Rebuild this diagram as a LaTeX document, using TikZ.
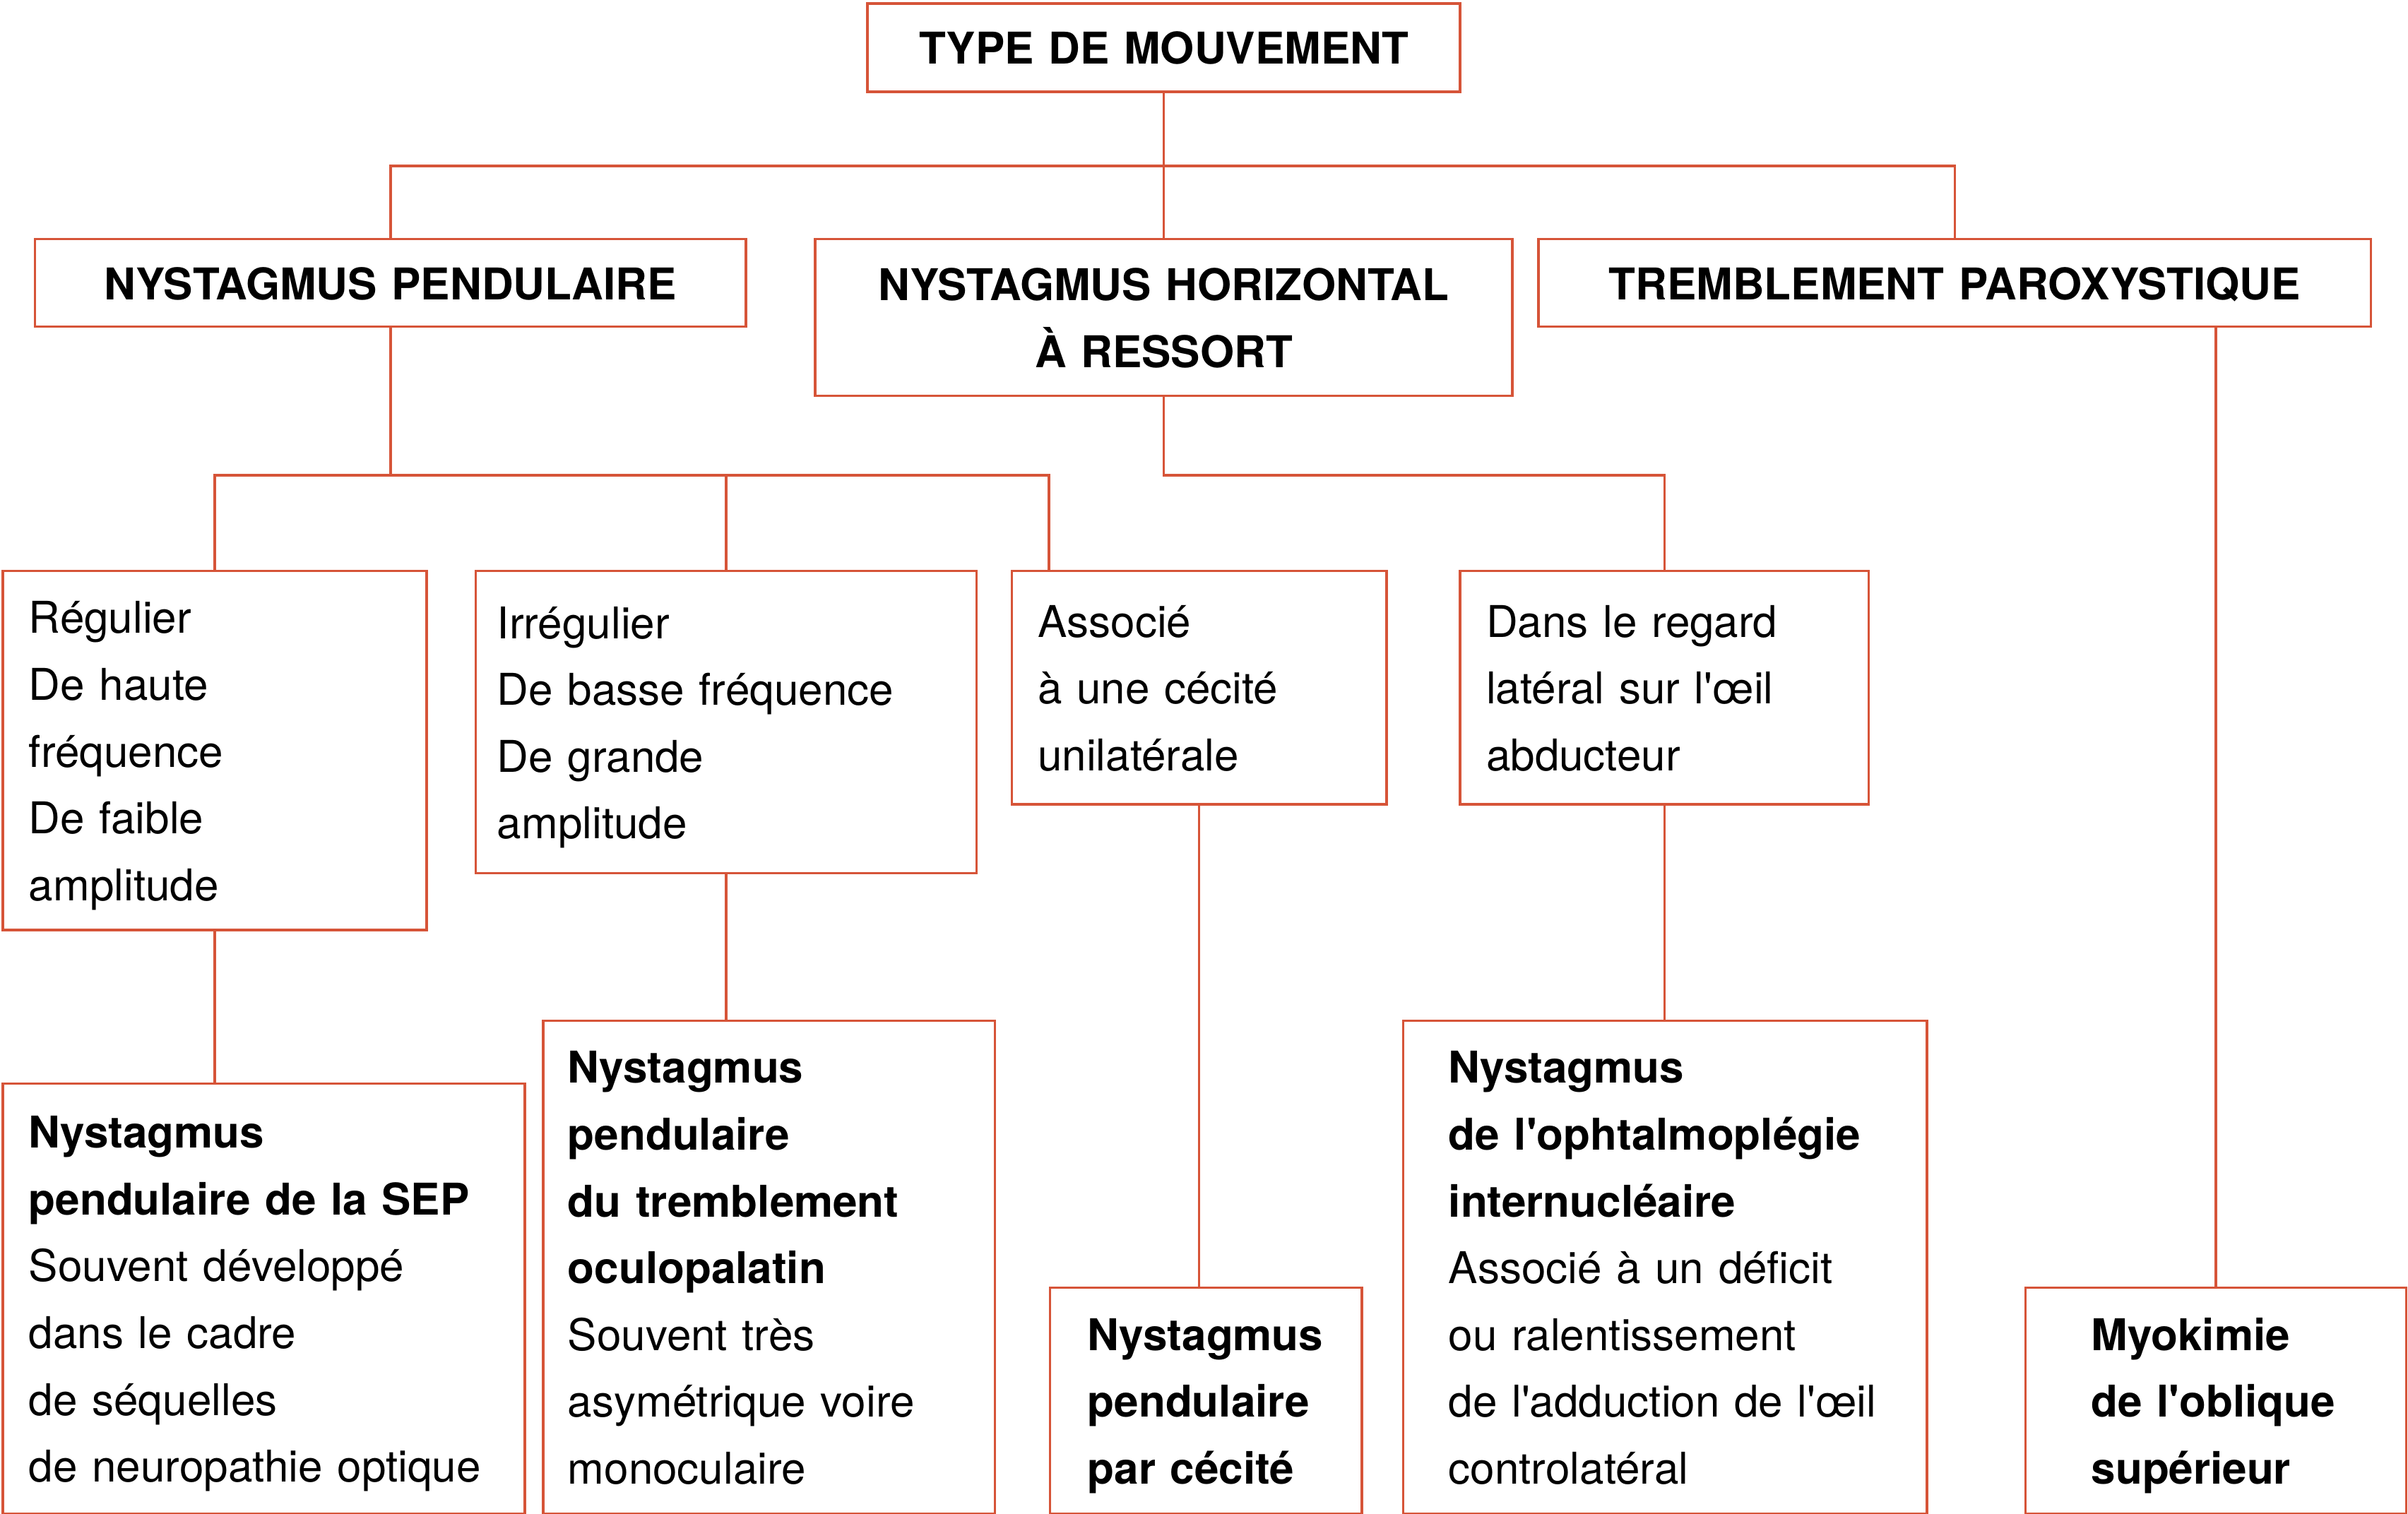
\documentclass[tikz,border=0pt]{standalone}
\usepackage{fontspec}
\newfontfamily\helv{TeX Gyre Heros}
\definecolor{boxred}{RGB}{214,84,56}
\newcommand\bxstrut{\rule[-11pt]{0pt}{43.5pt}}
\tikzset{
  box/.style={draw=boxred, line width=1.6pt, anchor=north west,
    inner xsep=17pt, inner ysep=0pt, align=left,
    font=\helv\fontsize{28.5}{43.5}\selectfont,
    execute at begin node=\bxstrut, execute at end node=\bxstrut},
  headbox/.style={box, align=center,
    font=\helv\bfseries\fontsize{28.5}{43.5}\selectfont},
  link/.style={draw=boxred, line width=1.6pt}
}
\begin{document}
\begin{tikzpicture}[x=1pt,y=-1pt]
  \useasboundingbox (0,0) rectangle (1568,986);
  % titres
  \node[headbox, text width=352pt, minimum height=57.5pt] (type) at (564,1.5) {TYPE DE MOUVEMENT};
  \node[headbox, text width=429pt, minimum height=57pt] (pend) at (22,155) {NYSTAGMUS PENDULAIRE};
  \node[headbox, text width=420pt, minimum height=102pt] (horiz) at (530,155) {NYSTAGMUS HORIZONTAL\\À RESSORT};
  \node[headbox, text width=508pt, minimum height=57pt] (tremb) at (1001,155) {TREMBLEMENT PAROXYSTIQUE};
  % caracteres
  \node[box, text width=242pt, minimum height=234pt] (reg) at (1,371)
  {Régulier\\De haute\\fréquence\\De faible\\amplitude};
  \node[box, inner xsep=14pt, text width=298pt, minimum height=197pt] (irreg) at (309,371)
  {Irrégulier\\De basse fréquence\\De grande\\amplitude};
  \node[box, text width=210pt, minimum height=152pt] (assoc) at (658,371)
  {Associé\\à une cécité\\unilatérale};
  \node[box, text width=232pt, minimum height=152pt] (regard) at (950,371)
  {Dans le regard\\latéral sur l'œil\\abducteur};
  % diagnostics
  \node[box, text width=306pt, minimum height=280pt] (sep) at (1,705)
  {\bfseries Nystagmus\\pendulaire de la SEP\\\mdseries Souvent développé\\dans le cadre\\de séquelles\\de neuropathie optique};
  \node[box, inner xsep=16pt, text width=262pt, minimum height=321pt] (oculo) at (353,664)
  {\bfseries Nystagmus\\pendulaire\\du tremblement\\oculopalatin\\\mdseries Souvent très\\asymétrique voire\\monoculaire};
  \node[box, inner xsep=0pt, text width=154pt, minimum width=203pt, minimum height=147pt] (cecite) at (683,838)
  {\bfseries Nystagmus\\pendulaire\\par cécité};
  \node[box, inner xsep=0pt, text width=282pt, minimum width=341pt, minimum height=321pt] (ophtal) at (913,664)
  {\bfseries Nystagmus\\de l'ophtalmoplégie\\internucléaire\\\mdseries Associé à un déficit\\ou ralentissement\\de l'adduction de l'œil\\controlatéral};
  \node[box, inner xsep=0pt, text width=162pt, minimum width=248pt, minimum height=147pt] (myok) at (1318,838)
  {\bfseries Myokimie\\de l'oblique\\supérieur};
  % liens
  \draw[link] (type.south) -- (horiz.north);
  \draw[link] (pend.north) -- ++(0,-47) -| (tremb.north);
  \draw[link] (pend.south) -- ++(0,96) coordinate (pbus);
  \coordinate (associn) at ([xshift=25pt]assoc.north west);
  \draw[link] (reg.north) |- (pbus) -| (associn);
  \draw[link] (irreg.north) -- (irreg.north |- pbus);
  \draw[link] (horiz.south) -- (horiz.south |- pbus) -| (regard.north);
  \draw[link] (reg.south) -- (reg.south |- sep.north);
  \draw[link] (irreg.south) -- (irreg.south |- oculo.north);
  \draw[link] (assoc.south) -- (assoc.south |- cecite.north);
  \draw[link] (regard.south) -- (regard.south |- ophtal.north);
  \draw[link] (myok.north) -- (myok.north |- tremb.south);
\end{tikzpicture}
\end{document}
